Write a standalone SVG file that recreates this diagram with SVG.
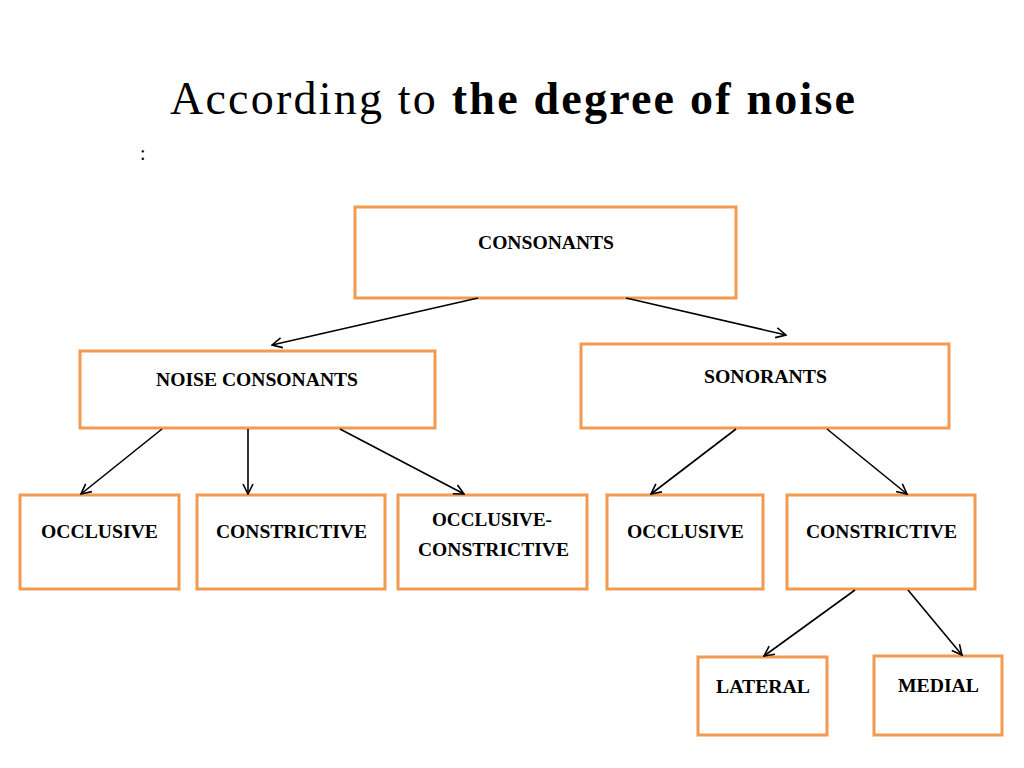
<svg xmlns="http://www.w3.org/2000/svg" width="1024" height="768" viewBox="0 0 1024 768">
<style>
.b{fill:#fff;stroke:#F29A50;stroke-width:3}
.t{font-family:"Liberation Serif",serif;font-weight:bold;font-size:18px;fill:#000}
.c line{stroke:#000;stroke-width:1.6;marker-end:url(#a)}
</style>
<defs><marker id="a" viewBox="0 0 12 12" refX="11" refY="6" markerWidth="12" markerHeight="12" markerUnits="userSpaceOnUse" orient="auto"><path d="M1,1 L11,6 L1,11" fill="none" stroke="#000" stroke-width="1.6"/></marker></defs>
<rect width="1024" height="768" fill="#fff"/>
<text x="170" y="114" font-family="Liberation Serif,serif" font-size="46" textLength="685" lengthAdjust="spacing">According to <tspan font-weight="bold">the degree of noise</tspan></text>
<text x="140" y="160" font-family="Liberation Serif,serif" font-size="20">:</text>
<g id="consonants"><rect class="b" x="355" y="207" width="381" height="91"/><text class="t" x="478" y="249" textLength="136" lengthAdjust="spacingAndGlyphs">CONSONANTS</text></g>
<g id="noise"><rect class="b" x="80" y="351" width="355" height="77"/><text class="t" x="156" y="386" textLength="202" lengthAdjust="spacingAndGlyphs">NOISE CONSONANTS</text></g>
<g id="sonorants"><rect class="b" x="581" y="344" width="368" height="84"/><text class="t" x="704" y="383" textLength="123" lengthAdjust="spacingAndGlyphs">SONORANTS</text></g>
<g id="occl1"><rect class="b" x="20" y="495" width="159" height="94"/><text class="t" x="41" y="538" textLength="117" lengthAdjust="spacingAndGlyphs">OCCLUSIVE</text></g>
<g id="constr1"><rect class="b" x="197" y="495" width="188" height="94"/><text class="t" x="216" y="538" textLength="151" lengthAdjust="spacingAndGlyphs">CONSTRICTIVE</text></g>
<g id="occlconstr"><rect class="b" x="398" y="495" width="189" height="94"/><text class="t" x="432" y="526" textLength="120" lengthAdjust="spacingAndGlyphs">OCCLUSIVE-</text><text class="t" x="418" y="556" textLength="151" lengthAdjust="spacingAndGlyphs">CONSTRICTIVE</text></g>
<g id="occl2"><rect class="b" x="607" y="495" width="156" height="94"/><text class="t" x="627" y="538" textLength="117" lengthAdjust="spacingAndGlyphs">OCCLUSIVE</text></g>
<g id="constr2"><rect class="b" x="787" y="495" width="188" height="94"/><text class="t" x="806" y="538" textLength="151" lengthAdjust="spacingAndGlyphs">CONSTRICTIVE</text></g>
<g id="lateral"><rect class="b" x="698" y="657" width="129" height="78"/><text class="t" x="716" y="693" textLength="94" lengthAdjust="spacingAndGlyphs">LATERAL</text></g>
<g id="medial"><rect class="b" x="874" y="656" width="128" height="79"/><text class="t" x="898" y="692" textLength="81" lengthAdjust="spacingAndGlyphs">MEDIAL</text></g>
<g class="c">
<line x1="478" y1="298" x2="272" y2="345"/>
<line x1="626" y1="298" x2="786" y2="335"/>
<line x1="162" y1="429" x2="81" y2="494"/>
<line x1="248" y1="429" x2="248" y2="494"/>
<line x1="340" y1="429" x2="464" y2="494"/>
<line x1="736" y1="429" x2="651" y2="494"/>
<line x1="827" y1="429" x2="907" y2="494"/>
<line x1="855" y1="590" x2="764" y2="656"/>
<line x1="908" y1="590" x2="962" y2="655"/>
</g>
</svg>
